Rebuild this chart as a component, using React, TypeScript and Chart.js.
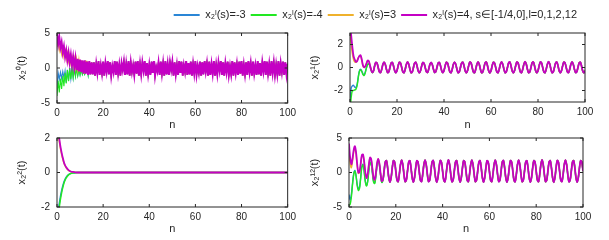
import React, { useEffect, useRef } from "react";
import { Chart, registerables } from "chart.js";

Chart.register(...registerables);

// ---------- shared data ----------
const T = [
  0, 0.5, 1, 1.5, 2, 2.5, 3, 3.5, 4, 4.5, 5, 5.5, 6, 6.5, 7, 7.5, 8, 8.5, 9, 9.5,
  10, 10.5, 11, 11.5, 12, 12.5, 13, 13.5, 14, 14.5, 15, 15.5, 16, 16.5, 17, 17.5, 18, 18.5, 19, 19.5,
  20, 20.5, 21, 21.5, 22, 22.5, 23, 23.5, 24, 24.5, 25, 25.5, 26, 26.5, 27, 27.5, 28, 28.5, 29, 29.5,
  30, 30.5, 31, 31.5, 32, 32.5, 33, 33.5, 34, 34.5, 35, 35.5, 36, 36.5, 37, 37.5, 38, 38.5, 39, 39.5,
  40, 40.5, 41, 41.5, 42, 42.5, 43, 43.5, 44, 44.5, 45, 45.5, 46, 46.5, 47, 47.5, 48, 48.5, 49, 49.5,
  50, 50.5, 51, 51.5, 52, 52.5, 53, 53.5, 54, 54.5, 55, 55.5, 56, 56.5, 57, 57.5, 58, 58.5, 59, 59.5,
  60, 60.5, 61, 61.5, 62, 62.5, 63, 63.5, 64, 64.5, 65, 65.5, 66, 66.5, 67, 67.5, 68, 68.5, 69, 69.5,
  70, 70.5, 71, 71.5, 72, 72.5, 73, 73.5, 74, 74.5, 75, 75.5, 76, 76.5, 77, 77.5, 78, 78.5, 79, 79.5,
  80, 80.5, 81, 81.5, 82, 82.5, 83, 83.5, 84, 84.5, 85, 85.5, 86, 86.5, 87, 87.5, 88, 88.5, 89, 89.5,
  90, 90.5, 91, 91.5, 92, 92.5, 93, 93.5, 94, 94.5, 95, 95.5, 96, 96.5, 97, 97.5, 98, 98.5, 99, 99.5,
  100,
];
const X_TICKS = [0, 20, 40, 60, 80, 100];
const LEGEND_LABELS = [
  "x₂ˡ(s)=-3",
  "x₂ˡ(s)=-4",
  "x₂ˡ(s)=3",
  "x₂ˡ(s)=4, s∈[-1/4,0],l=0,1,2,12",
];
const COLORS = ["#2a86d6", "#22e822", "#efb12c", "#c400c4"];

// ---------- top-left: x2^0 ----------
const TL_Y_TICKS = [-5, 0, 5];
const TL_BLUE_HEAD = [-3.0, -0.7, -1.6, -0.6, -1.5, -0.5, -1.4, -0.4, -2.1, -0.25, -1.85, 0.02, -1.55, 0.12, -1.35, 0.12, -1.15, 0.02, -1.05, -0.08, -0.95, -0.18, -0.9, -0.28, -0.9, -0.48, 0.5, -0.9, 0.8, -0.9, 0.8];
const TL_GREEN_HEAD = [-4.0, -1.8, -3.5, -1.5, -3.0, -1.1, -2.6, -0.7, -2.2, -0.3, -1.9, 0.0, -1.6, 0.1, -1.4, 0.1, -1.2, 0.0, -1.1, -0.1, -1.0, -0.2, -0.9, -0.3, -0.9, -0.5, 0.5, -0.9, 0.8, -0.9, 0.8];
const TL_ORANGE_HEAD = [3.0, 4.0, 2.5, 3.4, 2.0, 3.0, 1.6, 2.5, 1.2, 2.2, 0.9, 1.9, 0.6, 1.6, 0.3, 1.4, 0.0, 1.3, -0.3, 1.2, -0.5, 1.1, -0.6, 1.0, -0.8, 1.0, 0.9, -1.0, 1.0, -0.9, 0.8];
const TL_MAGENTA_HEAD = [5.0, 3.4, 4.4, 2.9, 3.7, 2.2, 3.1, 1.6, 2.5, 1.1, 2.2, 0.8, 1.9, 0.4, 1.6, 0.1, 1.4, -0.3, 1.3, -0.5, 1.2, -0.6, 1.1, -0.8, 1.1, -0.8, 0.9, -1.0, 1.0, -0.9, 0.8];
const TL_TAIL = [
  -0.9, 0.8, -1.1, 0.6, -0.7, 1.0, -1.0, 0.4, -0.8, 0.9,
  -1.1, 0.7, -0.5, 1.0, -0.9, 0.8, -1.1, 0.3, -0.6, 1.0,
  -1.0, 0.9, -0.8, 0.5, -1.1, 0.7, -0.3, 0.9, -1.0, 0.6,
  -0.9, 1.0, -1.1, 0.8, -0.6, 0.4, -1.0, 0.9, -0.8, 1.0,
  -1.1, 0.6, -0.9, 0.8, -0.4, 1.0, -1.1, 0.7, -0.9, 0.5,
  -1.0, 0.9, -0.7, 1.0, -1.1, 0.2, -0.5, 0.8, -1.0, 0.9,
  -0.8, 0.7, -1.1, 1.0, -0.9, 0.6, -1.0, 0.8, -0.3, 0.9,
  -1.1, 0.8, -0.9, 0.5, -1.0, 1.0, -0.7, 0.9, -1.1, 0.4,
  -0.6, 1.0, -1.0, 0.7, -0.9, 0.9, -1.1, 0.6, -0.8, 1.0,
  -1.0, 0.3, -0.7, 0.9, -1.1, 0.8, -0.9, 1.0, -0.5, 0.7,
  -1.1, 0.9, -1.0, 0.6, -0.8, 1.0, -1.1, 0.5, -0.9, 0.8,
  -0.4, 1.0, -1.0, 0.8, -1.1, 0.7, -0.6, 0.9, -1.0, 0.3,
  -0.9, 1.0, -1.1, 0.8, -0.7, 0.6, -1.0, 0.9, -0.8, 1.0,
  -1.1, 0.5, -0.9, 0.8, -1.0, 1.0, -0.6, 0.7, -1.1, 0.9,
  -0.8, 0.4, -1.0, 1.0, -0.9, 0.7, -1.1, 0.8, -0.5, 1.0,
  -1.0, 0.9, -0.8, 0.6, -1.1, 1.0, -0.7, 0.8, -1.0, 0.5,
  -0.9, 1.0, -1.1, 0.7, -0.6, 0.9, -1.0, 0.8, -0.9, 0.6,
];

// ---------- top-right: x2^1 ----------
const TR_Y_TICKS = [-2, 0, 2];
const TR_BLUE_HEAD = [-3.0, -1.8, -1.6, -1.55, -1.7, -1.75, -1.5, -0.85, -0.3, -0.15, -0.3, -0.55, -0.65, -0.4, 0.0, 0.28, 0.32, 0.12, -0.24, -0.45, -0.29];
const TR_GREEN_HEAD = [-4.0, -2.6, -2.0, -2.0, -1.95, -1.9, -1.6, -0.9, -0.35, -0.2, -0.35, -0.6, -0.7, -0.45, -0.05, 0.25, 0.3, 0.1, -0.25, -0.45, -0.3];
const TR_ORANGE_HEAD = [3.0, 2.0, 1.2, 0.7, 0.5, 0.45, 0.6, 0.85, 1.0, 1.0, 0.65, 0.15, 0.0, 0.1, 0.35, 0.58, 0.54, 0.2, -0.2, -0.43, -0.29];
const TR_MAGENTA_HEAD = [4.0, 2.8, 1.8, 1.0, 0.7, 0.5, 0.55, 0.8, 1.0, 1.07, 0.7, 0.2, 0.02, 0.1, 0.35, 0.6, 0.55, 0.2, -0.2, -0.42, -0.3];
const TR_TAIL = [
  0.15, 0.44, 0.37, 0.0, -0.37, -0.44, -0.15, 0.27, 0.46, 0.28, -0.15, -0.44, -0.37, 0.0, 0.37, 0.44, 0.15, -0.27, -0.46, -0.27,
  0.15, 0.46, 0.39, 0.0, -0.38, -0.45, -0.15, 0.28, 0.48, 0.29, -0.15, -0.46, -0.39, 0.0, 0.38, 0.45, 0.15, -0.28, -0.47, -0.28,
  0.14, 0.43, 0.36, 0.0, -0.36, -0.43, -0.14, 0.27, 0.45, 0.27, -0.14, -0.43, -0.36, 0.0, 0.37, 0.44, 0.15, -0.27, -0.45, -0.27,
  0.15, 0.45, 0.38, 0.0, -0.38, -0.45, -0.15, 0.28, 0.47, 0.28, -0.15, -0.45, -0.38, 0.0, 0.38, 0.46, 0.16, -0.28, -0.47, -0.28,
  0.16, 0.47, 0.40, 0.0, -0.39, -0.46, -0.15, 0.29, 0.49, 0.29, -0.15, -0.46, -0.39, 0.0, 0.39, 0.47, 0.16, -0.29, -0.48, -0.29,
  0.15, 0.46, 0.39, 0.0, -0.38, -0.45, -0.15, 0.28, 0.48, 0.29, -0.15, -0.45, -0.38, 0.0, 0.40, 0.48, 0.16, -0.29, -0.47, -0.28,
  0.15, 0.47, 0.40, 0.0, -0.38, -0.45, -0.15, 0.29, 0.50, 0.30, -0.15, -0.45, -0.38, 0.0, 0.40, 0.48, 0.16, -0.28, -0.46, -0.28,
  0.16, 0.48, 0.40, 0.0, -0.38, -0.45, -0.15, 0.29, 0.50, 0.30, -0.15, -0.45, -0.38, 0.0, 0.39, 0.47, 0.16, -0.28, -0.46, -0.27,
  0.15, 0.47, 0.39, 0.0, -0.37, -0.44, -0.15, 0.28, 0.48, 0.29, -0.15, -0.44, -0.37, 0.0, 0.38, 0.46, 0.15, -0.28, -0.46, -0.28,
];

// ---------- bottom-left: x2^2 ----------
const BL_Y_TICKS = [-2, 0, 2];
const BL_TIMES = [0, 0.5, 1, 1.5, 2, 2.5, 3, 3.5, 4, 5, 6, 7, 8, 9, 10, 12, 15, 20, 30, 40, 50, 60, 70, 80, 90, 100];
const BL_BLUE = [-3.0, -2.3, -1.8, -1.38, -1.05, -0.78, -0.55, -0.39, -0.27, -0.12, -0.05, -0.02, -0.01, 0, 0, 0, 0, 0, 0, 0, 0, 0, 0, 0, 0, 0];
const BL_GREEN = [-3.6, -2.6, -2.0, -1.55, -1.18, -0.88, -0.62, -0.44, -0.31, -0.14, -0.06, -0.03, -0.01, 0, 0, 0, 0, 0, 0, 0, 0, 0, 0, 0, 0, 0];
const BL_ORANGE = [3.0, 2.3, 1.8, 1.38, 1.05, 0.78, 0.55, 0.39, 0.27, 0.12, 0.05, 0.02, 0.01, 0, 0, 0, 0, 0, 0, 0, 0, 0, 0, 0, 0, 0];
const BL_MAGENTA = [3.4, 2.5, 1.95, 1.5, 1.15, 0.85, 0.6, 0.42, 0.3, 0.14, 0.06, 0.03, 0.01, 0, 0, 0, 0, 0, 0, 0, 0, 0, 0, 0, 0, 0];

// ---------- bottom-right: x2^12 ----------
const BR_Y_TICKS = [-5, 0, 5];
const BR_BLUE_HEAD = [-3.2, -4.0, -3.2, -1.6, -0.2, 0.3, -0.4, -1.7, -2.4, -2.1, -0.7, 0.9, 1.2, 0.2, -1.3, -1.85, -1.2, 0.4, 1.5, 1.3, 0.0, -1.3, -1.5, -0.4, 1.05, 1.75, 1.1, -0.35, -1.4, -1.12, 0.18];
const BR_GREEN_HEAD = [-4.8, -4.6, -3.6, -1.8, -0.3, 0.2, -0.5, -1.9, -2.6, -2.3, -0.8, 0.8, 1.1, 0.1, -1.4, -1.95, -1.3, 0.3, 1.4, 1.2, -0.1, -1.4, -1.6, -0.5, 1.0, 1.7, 1.05, -0.4, -1.45, -1.15, 0.17];
const BR_ORANGE_HEAD = [3.0, 1.31, 0.68, 1.61, 2.94, 3.55, 2.74, 1.06, -0.12, 0.01, 1.2, 2.39, 2.52, 1.41, -0.1, -0.85, -0.24, 1.14, 2.12, 1.85, 0.52, -0.81, -1.07, -0.07, 1.33, 1.96, 1.27, -0.19, -1.25, -1.04, 0.23];
const BR_MAGENTA_HEAD = [4.2, 2.11, 1.18, 2.01, 3.24, 3.8, 2.94, 1.21, -0.02, 0.11, 1.3, 2.49, 2.62, 1.49, -0.04, -0.8, -0.19, 1.19, 2.17, 1.89, 0.55, -0.79, -1.05, -0.05, 1.34, 1.97, 1.28, -0.18, -1.24, -1.04, 0.23];
const BR_TAIL = [
  1.49, 1.72, 0.69, -0.74, -1.40, -0.74, 0.69, 1.72, 1.49, 0.20, -1.09, -1.32, -0.29, 1.14, 1.80, 1.14, -0.29, -1.32, -1.09, 0.20,
  1.48, 1.71, 0.68, -0.73, -1.39, -0.73, 0.69, 1.71, 1.48, 0.20, -1.08, -1.31, -0.28, 1.14, 1.79, 1.13, -0.29, -1.31, -1.08, 0.20,
  1.50, 1.73, 0.70, -0.75, -1.41, -0.75, 0.70, 1.73, 1.50, 0.21, -1.10, -1.33, -0.29, 1.15, 1.81, 1.15, -0.29, -1.33, -1.10, 0.21,
  1.49, 1.72, 0.69, -0.74, -1.40, -0.74, 0.69, 1.72, 1.49, 0.20, -1.09, -1.32, -0.29, 1.14, 1.80, 1.14, -0.29, -1.32, -1.09, 0.20,
  1.48, 1.72, 0.69, -0.74, -1.39, -0.74, 0.68, 1.71, 1.49, 0.20, -1.09, -1.32, -0.29, 1.13, 1.79, 1.14, -0.29, -1.31, -1.09, 0.19,
  1.50, 1.73, 0.69, -0.74, -1.40, -0.75, 0.69, 1.72, 1.50, 0.21, -1.09, -1.33, -0.30, 1.14, 1.80, 1.15, -0.28, -1.32, -1.10, 0.20,
  1.49, 1.71, 0.68, -0.74, -1.40, -0.74, 0.69, 1.72, 1.49, 0.20, -1.08, -1.32, -0.29, 1.14, 1.81, 1.14, -0.29, -1.32, -1.09, 0.20,
  1.49, 1.72, 0.70, -0.73, -1.41, -0.74, 0.70, 1.73, 1.49, 0.21, -1.09, -1.31, -0.29, 1.15, 1.80, 1.13, -0.29, -1.33, -1.09, 0.20,
  1.49, 1.72, 0.69, -0.74, -1.40, -0.74, 0.69, 1.72, 1.49, 0.20,
];

// ---------- styling ----------
const FONT = "'Liberation Sans', Arial, Helvetica, sans-serif";
const TEXT = "#262626";
Chart.defaults.font.family = FONT;
Chart.defaults.color = TEXT;

const boxPlugin = {
  id: "matlabBox",
  afterDraw(chart: any) {
    const { ctx, chartArea: a, scales } = chart;
    if (!a || !scales.x || !scales.y) return;
    ctx.save();
    ctx.strokeStyle = TEXT;
    ctx.lineWidth = 1;
    ctx.strokeRect(a.left, a.top, a.right - a.left, a.bottom - a.top);
    const L = 3;
    ctx.beginPath();
    for (const t of scales.x.ticks) {
      const px = scales.x.getPixelForValue(t.value);
      ctx.moveTo(px, a.bottom);
      ctx.lineTo(px, a.bottom - L);
      ctx.moveTo(px, a.top);
      ctx.lineTo(px, a.top + L);
    }
    for (const t of scales.y.ticks) {
      const py = scales.y.getPixelForValue(t.value);
      ctx.moveTo(a.left, py);
      ctx.lineTo(a.left + L, py);
      ctx.moveTo(a.right, py);
      ctx.lineTo(a.right - L, py);
    }
    ctx.stroke();
    ctx.restore();
  },
};

type PlotSpec = {
  left: number;
  top: number;
  width: number;
  height: number;
  yWidth: number;
  xHeight: number;
  padTop: number;
  padRight: number;
  yTitlePad: number;
  yMin: number;
  yMax: number;
  yTicks: number[];
  yTitle: string;
  times: number[];
  series: number[][];
  tension: number;
  lineWidth: number;
  topWidth: number;
  monotone?: boolean;
};

function Plot({ spec }: { spec: PlotSpec }) {
  const ref = useRef<HTMLCanvasElement | null>(null);
  useEffect(() => {
    if (!ref.current) return;
    const n = spec.series.length;
    const datasets = spec.series
      .map((s, i) => ({
        label: LEGEND_LABELS[i],
        data: spec.times.map((t, j) => ({ x: t, y: s[j] })),
        borderColor: COLORS[i],
        backgroundColor: COLORS[i],
        borderWidth: i === n - 1 ? spec.topWidth : spec.lineWidth,
        pointRadius: 0,
        tension: spec.tension,
        cubicInterpolationMode: spec.monotone ? "monotone" : "default",
        fill: false,
      }))
      .reverse();
    const chart = new Chart(ref.current, {
      type: "line",
      data: { datasets } as any,
      plugins: [boxPlugin],
      options: {
        animation: false,
        responsive: false,
        maintainAspectRatio: false,
        events: [],
        layout: { padding: { top: spec.padTop, right: spec.padRight, left: 0, bottom: 0 } },
        plugins: { legend: { display: false }, tooltip: { enabled: false } },
        scales: {
          x: {
            type: "linear",
            min: 0,
            max: 100,
            afterBuildTicks: (s: any) => {
              s.ticks = X_TICKS.map((v) => ({ value: v }));
            },
            afterFit: (s: any) => {
              s.height = spec.xHeight;
            },
            grid: { display: false, drawTicks: false },
            border: { display: false },
            ticks: { padding: 4, color: TEXT, font: { size: 10 }, autoSkip: false, maxRotation: 0 },
            title: { display: true, text: "n", color: TEXT, font: { size: 11 }, padding: 0 },
          },
          y: {
            type: "linear",
            min: spec.yMin,
            max: spec.yMax,
            afterBuildTicks: (s: any) => {
              s.ticks = spec.yTicks.map((v) => ({ value: v }));
            },
            afterFit: (s: any) => {
              s.width = spec.yWidth;
            },
            grid: { display: false, drawTicks: false },
            border: { display: false },
            ticks: { padding: 7, color: TEXT, font: { size: 10 }, autoSkip: false },
            title: {
              display: true,
              text: spec.yTitle,
              color: TEXT,
              font: { size: 11 },
              padding: { top: spec.yTitlePad, bottom: 0 },
            },
          },
        },
      } as any,
    });
    return () => chart.destroy();
  }, [spec]);
  return (
    <canvas
      ref={ref}
      width={spec.width}
      height={spec.height}
      style={{ position: "absolute", left: spec.left, top: spec.top, width: spec.width, height: spec.height }}
    />
  );
}

function Legend() {
  const ref = useRef<HTMLCanvasElement | null>(null);
  useEffect(() => {
    if (!ref.current) return;
    const chart = new Chart(ref.current, {
      type: "line",
      data: {
        datasets: LEGEND_LABELS.map((l, i) => ({
          label: l,
          data: [],
          borderColor: COLORS[i],
          backgroundColor: COLORS[i],
          borderWidth: 0,
        })),
      },
      options: {
        animation: false,
        responsive: false,
        events: [],
        layout: { padding: { top: 4.5, right: 27, left: 0, bottom: 0 } },
        scales: { x: { display: false }, y: { display: false } },
        plugins: {
          tooltip: { enabled: false },
          legend: {
            display: true,
            position: "top",
            align: "end",
            maxHeight: 40,
            labels: { boxWidth: 26, boxHeight: 2, padding: 5, color: TEXT, font: { size: 11 } },
          },
        },
      } as any,
    });
    return () => chart.destroy();
  }, []);
  return (
    <canvas ref={ref} width={609} height={60} style={{ position: "absolute", left: 0, top: 0, width: 609, height: 60 }} />
  );
}

const SPECS: PlotSpec[] = [
  {
    left: 0, top: 20, width: 300, height: 112, yWidth: 57, xHeight: 29, padTop: 9.5, padRight: 11, yTitlePad: 15,
    yMin: -5, yMax: 5, yTicks: TL_Y_TICKS, yTitle: "x₂⁰(t)", times: T,
    series: [
      [...TL_BLUE_HEAD, ...TL_TAIL],
      [...TL_GREEN_HEAD, ...TL_TAIL],
      [...TL_ORANGE_HEAD, ...TL_TAIL],
      [...TL_MAGENTA_HEAD, ...TL_TAIL],
    ],
    tension: 0, lineWidth: 1.1, topWidth: 2.0,
  },
  {
    left: 300, top: 20, width: 309, height: 112, yWidth: 50, xHeight: 30, padTop: 10, padRight: 24, yTitlePad: 8,
    yMin: -3, yMax: 3, yTicks: TR_Y_TICKS, yTitle: "x₂¹(t)", times: T,
    series: [
      [...TR_BLUE_HEAD, ...TR_TAIL],
      [...TR_GREEN_HEAD, ...TR_TAIL],
      [...TR_ORANGE_HEAD, ...TR_TAIL],
      [...TR_MAGENTA_HEAD, ...TR_TAIL],
    ],
    tension: 0.35, lineWidth: 1.4, topWidth: 1.8,
  },
  {
    left: 0, top: 125, width: 300, height: 111, yWidth: 57, xHeight: 29, padTop: 10, padRight: 11, yTitlePad: 15,
    yMin: -2, yMax: 2, yTicks: BL_Y_TICKS, yTitle: "x₂²(t)", times: BL_TIMES,
    series: [BL_BLUE, BL_GREEN, BL_ORANGE, BL_MAGENTA],
    tension: 0.3, lineWidth: 1.5, topWidth: 1.8, monotone: true,
  },
  {
    left: 300, top: 125, width: 309, height: 111, yWidth: 49, xHeight: 29, padTop: 10, padRight: 26, yTitlePad: 8,
    yMin: -5, yMax: 5, yTicks: BR_Y_TICKS, yTitle: "x₂¹²(t)", times: T,
    series: [
      [...BR_BLUE_HEAD, ...BR_TAIL],
      [...BR_GREEN_HEAD, ...BR_TAIL],
      [...BR_ORANGE_HEAD, ...BR_TAIL],
      [...BR_MAGENTA_HEAD, ...BR_TAIL],
    ],
    tension: 0.35, lineWidth: 1.4, topWidth: 1.8,
  },
];

export default function App() {
  return (
    <div style={{ position: "fixed", left: 0, top: 0, width: 609, height: 240, background: "#ffffff", overflow: "hidden" }}>
      {SPECS.map((s, i) => (
        <Plot key={i} spec={s} />
      ))}
      <Legend />
    </div>
  );
}
